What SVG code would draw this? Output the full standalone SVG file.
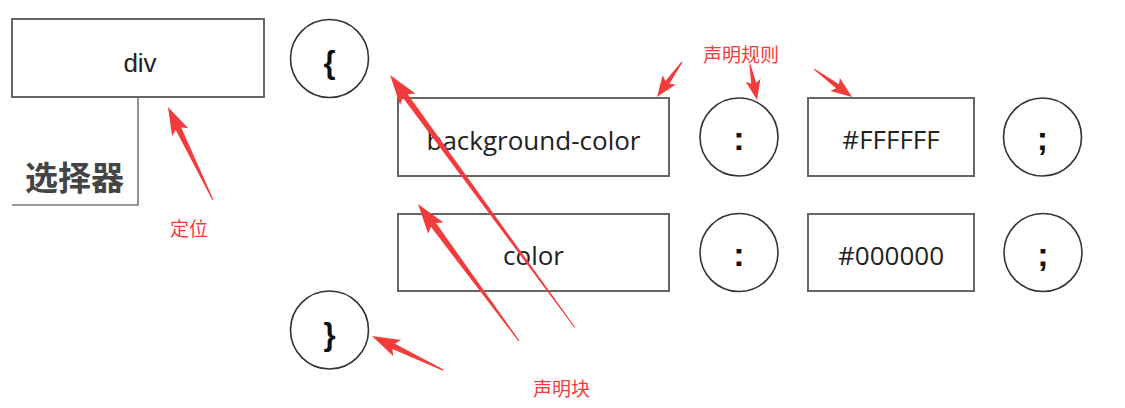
<svg xmlns="http://www.w3.org/2000/svg" width="1125" height="408" viewBox="0 0 1125 408">
<style>
.box{fill:#fff;stroke:#666;stroke-width:2}
.cir{fill:#fff;stroke:#333;stroke-width:1.6}
.t{font-family:"Open Sans","Liberation Sans",sans-serif;font-size:26px;fill:#222;text-anchor:middle}
.p{font-family:"Liberation Sans","DejaVu Sans",sans-serif;font-weight:bold;fill:#111;text-anchor:middle}
.lbl{font-family:"Noto Sans CJK SC",sans-serif;font-size:19px;fill:#f23c3c}
.arr{fill:#f23c3c}
</style>
<rect width="1125" height="408" fill="#fff"/>
<g id="div">
<rect class="box" x="12" y="19" width="252" height="78"/>
<text x="140" y="72" style="font-family:'Liberation Sans',sans-serif;font-size:26px;fill:#222;text-anchor:middle">div</text>
</g>
<g id="selector">
<polyline points="138,97 138,205 12,205" fill="none" stroke="#777" stroke-width="1.6"/>
<text x="25" y="190" style="font-family:'Noto Sans CJK SC',sans-serif;font-size:33px;font-weight:bold;fill:#444">选择器</text>
</g>
<g id="open-brace">
<circle class="cir" cx="329.5" cy="58.5" r="39"/>
<text class="p" x="329.5" y="73" font-size="31">{</text>
</g>
<g id="close-brace">
<circle class="cir" cx="329.5" cy="330" r="39"/>
<text class="p" x="329.5" y="345" font-size="31">}</text>
</g>
<g id="prop1">
<rect class="box" x="398" y="98" width="271" height="78"/>
<text class="t" x="533.5" y="150">background-color</text>
</g>
<g id="colon1">
<circle class="cir" cx="739" cy="137" r="39"/>
<text class="p" x="739" y="150" font-size="34">:</text>
</g>
<g id="val1">
<rect class="box" x="808" y="98" width="166" height="78"/>
<text class="t" x="891" y="149" font-size="25">#FFFFFF</text>
</g>
<g id="semi1">
<circle class="cir" cx="1042.5" cy="137" r="39"/>
<text class="p" x="1042.5" y="150" font-size="34">;</text>
</g>
<g id="prop2">
<rect class="box" x="398" y="214" width="271" height="77"/>
<text class="t" x="533.5" y="265">color</text>
</g>
<g id="colon2">
<circle class="cir" cx="739" cy="252.5" r="39"/>
<text class="p" x="739" y="266" font-size="34">:</text>
</g>
<g id="val2">
<rect class="box" x="808" y="214" width="166" height="77"/>
<text class="t" x="891" y="265">#000000</text>
</g>
<g id="semi2">
<circle class="cir" cx="1043" cy="252.5" r="39"/>
<text class="p" x="1043" y="266" font-size="34">;</text>
</g>
<g id="connectors">
<polygon class="arr" transform="translate(168,107) rotate(-115.8)" points="-103,-0.6 -24,-3 -28,-9 0,0 -28,9 -24,3 -103,0.6"/>
<polygon class="arr" transform="translate(657,97) rotate(125.5)" points="-43,-0.6 -18,-2.5 -21,-8 0,0 -21,8 -18,2.5 -43,0.6"/>
<polygon class="arr" transform="translate(757,100) rotate(78.7)" points="-36,-0.6 -17,-2.5 -20,-7.5 0,0 -20,7.5 -17,2.5 -36,0.6"/>
<polygon class="arr" transform="translate(852,97) rotate(36.4)" points="-47,-0.6 -18,-2.5 -21,-8 0,0 -21,8 -18,2.5 -47,0.6"/>
<polygon class="arr" transform="translate(390,75) rotate(-126.2)" points="-313,-0.5 -26,-3 -30,-9.5 0,0 -30,9.5 -26,3 -313,0.5"/>
<polygon class="arr" transform="translate(418,204) rotate(-126.4)" points="-170,-0.6 -26,-3.2 -30,-9.5 0,0 -30,9.5 -26,3.2 -170,0.6"/>
<polygon class="arr" transform="translate(372,336) rotate(-154.4)" points="-79,-0.6 -24,-3 -28,-9 0,0 -28,9 -24,3 -79,0.6"/>
</g>
<text class="lbl" x="703" y="62">声明规则</text>
<text class="lbl" x="170" y="236">定位</text>
<text class="lbl" x="533" y="396">声明块</text>
</svg>
